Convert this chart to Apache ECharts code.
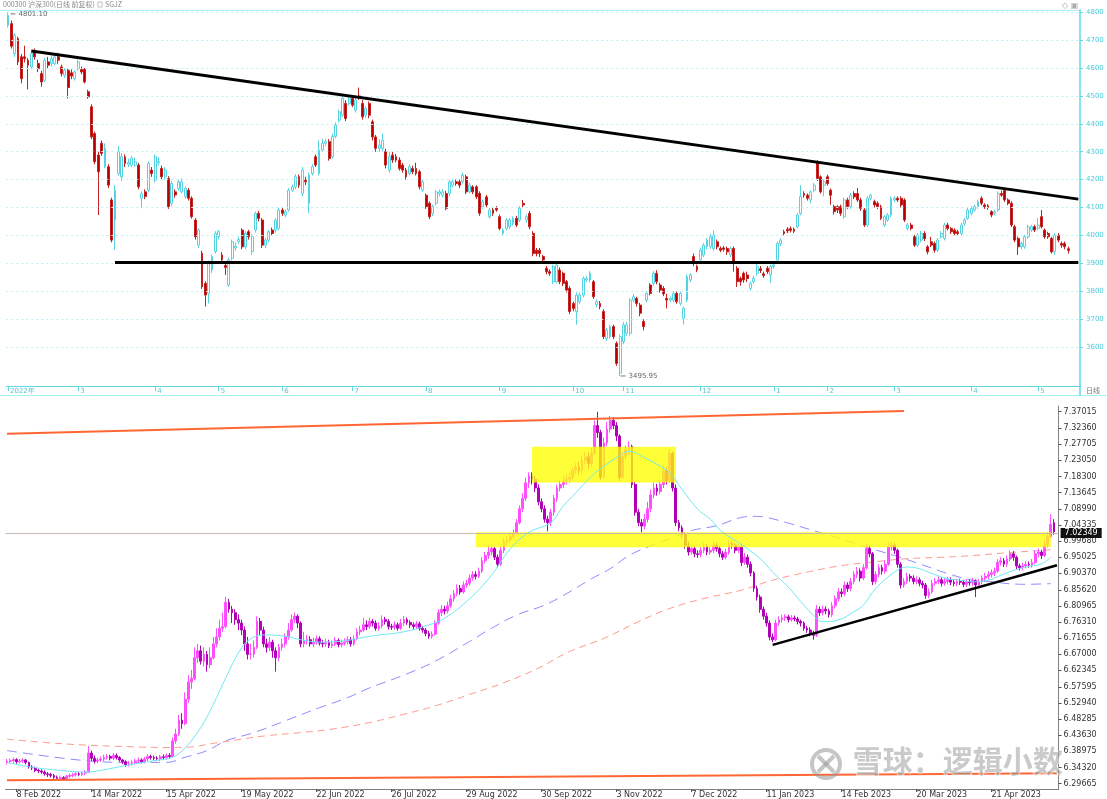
<!DOCTYPE html>
<html><head><meta charset="utf-8">
<script src="https://cdn.jsdelivr.net/npm/echarts@6/dist/echarts.min.js"></script>
<style>html,body{margin:0;padding:0;background:#fff}#c{width:1107px;height:799px}</style>
</head><body><div id="c"></div><script>
// ---------- TOP PANEL: CSI 300 daily [open, close, low, high] ----------
const csiOHLC = [
[4753,4789,4745,4801],[4759,4678,4670,4770],[4652,4718,4640,4725],[4706,4622,4610,4712],[4640,4562,4545,4650],[4640,4634,4620,4680],
[4628,4610,4523,4635],[4604,4652,4595,4665],[4658,4640,4630,4670],[4616,4598,4585,4630],[4580,4550,4533,4590],[4556,4628,4550,4635],
[4622,4610,4600,4640],[4616,4634,4605,4645],[4616,4640,4610,4650],[4640,4628,4615,4655],[4604,4580,4570,4612],[4574,4592,4565,4600],
[4592,4530,4491,4600],[4583,4571,4560,4595],[4562,4586,4555,4592],[4598,4622,4590,4630],[4595,4586,4578,4605],[4595,4550,4545,4600],
[4515,4497,4490,4522],[4461,4353,4345,4470],[4365,4264,4255,4372],[4288,4228,4073,4300],[4330,4294,4285,4340],[4246,4312,4240,4330],
[4246,4180,4170,4255],[4127,3983,3975,4135],[4055,4162,3948,4180],[4222,4300,4215,4320],[4210,4282,4195,4295],[4282,4258,4245,4290],
[4255,4262,4245,4275],[4252,4276,4245,4285],[4252,4264,4245,4280],[4252,4174,4165,4260],[4133,4150,4097,4158],[4156,4139,4130,4165],
[4162,4258,4155,4265],[4234,4222,4210,4245],[4198,4282,4190,4290],[4260,4264,4250,4280],[4240,4210,4200,4250],[4210,4234,4200,4245],
[4204,4103,4095,4212],[4115,4186,4105,4195],[4156,4145,4135,4165],[4168,4192,4160,4200],[4156,4192,4150,4205],[4139,4168,4130,4175],
[4162,4133,4125,4170],[4133,4067,4060,4140],[4055,3995,3985,4062],[3965,4019,3955,4025],[3936,3816,3808,3945],[3828,3786,3745,3835],
[3792,3900,3756,3910],[3876,3924,3865,3932],[3942,4007,3935,4015],[3995,4013,3985,4020],[3930,3912,3905,3940],[3892,3885,3858,3900],
[3822,3912,3815,3920],[3918,3977,3910,3985],[3955,3962,3945,3975],[3978,3985,3970,3995],[4019,3959,3950,4025],[3959,4007,3950,4015],
[4013,3995,3985,4020],[3942,3995,3930,4005],[4019,4079,4010,4085],[4079,4061,4050,4088],[4055,3965,3955,4062],[3965,3983,3955,3990],
[3983,4013,3975,4020],[4019,4007,4000,4028],[4019,4055,4010,4062],[4025,4091,4018,4100],[4091,4079,4070,4098],[4073,4085,4065,4092],
[4091,4162,4085,4170],[4162,4174,4155,4182],[4174,4210,4165,4220],[4210,4180,4170,4218],[4150,4234,4140,4245],[4198,4192,4180,4210],
[4115,4216,4080,4225],[4222,4246,4215,4255],[4282,4252,4245,4290],[4222,4306,4215,4340],[4306,4330,4300,4345],[4330,4336,4320,4345],
[4336,4276,4268,4345],[4282,4355,4275,4365],[4355,4395,4348,4405],[4413,4443,4405,4450],[4431,4491,4425,4500],[4473,4419,4410,4485],
[4473,4491,4465,4500],[4491,4467,4460,4500],[4449,4485,4440,4495],[4500,4494,4485,4530],[4473,4425,4415,4485],[4431,4455,4420,4462],
[4473,4431,4420,4480],[4407,4353,4340,4415],[4353,4312,4300,4360],[4312,4324,4300,4345],[4312,4341,4300,4365],[4300,4252,4240,4310],
[4234,4282,4225,4300],[4288,4270,4260,4300],[4282,4270,4262,4292],[4270,4240,4232,4280],[4252,4234,4225,4260],[4234,4210,4200,4242],
[4222,4246,4215,4255],[4240,4228,4220,4250],[4240,4222,4215,4260],[4228,4174,4165,4235],[4162,4192,4155,4200],[4144,4103,4095,4150],
[4115,4067,4058,4122],[4079,4103,4070,4110],[4115,4156,4108,4162],[4150,4156,4140,4165],[4144,4156,4135,4165],[4150,4097,4090,4160],
[4150,4192,4140,4200],[4180,4192,4172,4200],[4192,4186,4178,4200],[4192,4180,4170,4200],[4192,4216,4185,4225],[4210,4156,4148,4218],
[4156,4180,4150,4188],[4174,4156,4148,4180],[4174,4138,4130,4180],[4150,4079,4070,4158],[4103,4120,4095,4128],[4138,4109,4100,4145],
[4067,4091,4060,4098],[4091,4079,4070,4098],[4097,4091,4085,4105],[4067,4025,4018,4075],[4007,4019,3998,4025],[4025,4055,4018,4062],
[4031,4055,4022,4062],[4043,4061,4035,4068],[4061,4037,4030,4070],[4055,4097,4048,4105],[4115,4109,4100,4127],[4055,4067,4045,4075],
[4079,4031,4022,4088],[4007,3935,3925,4015],[3947,3935,3925,3955],[3947,3935,3922,3955],[3924,3912,3900,3930],[3882,3870,3860,3890],
[3870,3864,3855,3878],[3834,3888,3825,3895],[3834,3894,3828,3900],[3876,3834,3825,3885],[3864,3828,3818,3870],[3834,3804,3795,3840],
[3810,3727,3718,3818],[3756,3738,3728,3762],[3727,3786,3680,3795],[3762,3786,3755,3795],[3786,3846,3778,3852],[3840,3846,3832,3855],
[3840,3864,3832,3872],[3834,3780,3772,3840],[3752,3762,3742,3770],[3756,3744,3735,3765],[3727,3637,3628,3735],[3631,3661,3622,3668],
[3637,3673,3630,3680],[3673,3637,3628,3680],[3613,3541,3532,3620],[3506,3637,3496,3645],[3619,3679,3610,3690],[3649,3679,3640,3690],
[3649,3768,3640,3775],[3768,3780,3760,3790],[3774,3756,3745,3780],[3750,3721,3710,3758],[3691,3673,3660,3700],[3768,3792,3760,3800],
[3822,3792,3785,3828],[3828,3864,3820,3872],[3864,3834,3825,3875],[3822,3804,3795,3830],[3810,3790,3782,3818],[3774,3768,3738,3790],
[3768,3774,3760,3780],[3768,3792,3760,3800],[3792,3762,3755,3800],[3756,3792,3748,3798],[3703,3738,3680,3745],[3768,3852,3760,3860],
[3840,3858,3832,3865],[3924,3900,3890,3935],[3888,3876,3868,3895],[3912,3947,3905,3955],[3930,3965,3922,3972],[3959,3983,3950,3990],
[3959,3995,3952,4005],[3953,4001,3945,4018],[3977,3959,3950,3985],[3953,3947,3940,3960],[3955,3950,3942,3962],[3953,3941,3930,3960],
[3930,3953,3922,3960],[3953,3900,3870,3960],[3882,3834,3815,3890],[3846,3834,3820,3852],[3864,3840,3830,3870],[3858,3845,3832,3870],
[3810,3828,3802,3835],[3834,3846,3828,3855],[3864,3888,3855,3900],[3880,3874,3865,3890],[3862,3856,3848,3870],[3882,3870,3862,3890],
[3858,3888,3830,3895],[3888,3894,3880,3900],[3912,3971,3905,3978],[3971,3983,3962,3990],[4013,4007,4000,4020],[4022,4016,4008,4030],
[4024,4018,4010,4032],[4022,4015,4008,4028],[4031,4073,4025,4080],[4079,4139,4072,4180],[4150,4144,4135,4158],[4144,4133,4125,4150],
[4127,4156,4115,4162],[4162,4180,4155,4188],[4264,4204,4195,4270],[4210,4156,4150,4215],[4180,4192,4140,4200],[4210,4186,4178,4218],
[4162,4144,4110,4168],[4103,4085,4075,4110],[4103,4091,4080,4108],[4103,4079,4070,4110],[4067,4127,4060,4135],[4127,4103,4095,4135],
[4103,4144,4095,4152],[4150,4138,4130,4158],[4150,4127,4120,4170],[4127,4097,4088,4135],[4091,4037,4030,4098],[4037,4133,4030,4140],
[4133,4144,4125,4150],[4121,4109,4100,4128],[4115,4103,4095,4122],[4103,4061,4055,4110],[4037,4067,4030,4073],[4055,4073,4048,4080],
[4073,4133,4065,4140],[4127,4133,4120,4140],[4133,4127,4120,4140],[4133,4109,4100,4140],[4127,4055,4048,4133],[4025,4037,4018,4045],
[4037,4025,4018,4045],[3995,3965,3958,4002],[3965,4001,3958,4008],[3983,4007,3975,4015],[4007,3989,3980,4015],[3959,3941,3932,3965],
[3977,3965,3958,3995],[3971,3947,3938,3978],[3947,3983,3940,3990],[3995,4007,3988,4015],[3989,4037,3982,4045],[4037,4025,4018,4045],
[4025,4013,4005,4030],[4019,4007,4000,4025],[4013,4007,4000,4020],[4007,4037,4000,4045],[4043,4055,4035,4062],[4061,4091,4055,4098],
[4079,4097,4072,4105],[4091,4103,4085,4110],[4103,4121,4095,4128],[4133,4115,4108,4140],[4109,4103,4095,4115],[4106,4100,4092,4112],
[4085,4073,4065,4090],[4079,4085,4072,4092],[4091,4150,4085,4158],[4150,4144,4138,4160],[4162,4127,4120,4170],[4127,4115,4108,4133],
[4115,4037,4030,4122],[4031,3983,3975,4038],[3989,3959,3930,3995],[3959,3971,3950,3978],[3959,3995,3952,4002],[3995,4031,3988,4038],
[4019,4031,4012,4038],[4031,4019,4012,4038],[4025,4037,4018,4062],[4067,4031,4025,4091],[4019,3995,3988,4025],[4007,3995,3988,4013],
[3989,3941,3935,3995],[3941,4001,3930,4008],[4001,3983,3975,4008],[3971,3965,3955,3978],[3971,3959,3950,3978],[3952,3946,3935,3960]
];
const csiBlankSlots = 3;
const csiTickIdx = [0,21,44,63,82,103,125,147,169,184,207,229,245,265,288,308];
const csiTickLabels = ['2022年','3','4','5','6','7','8','9','10','11','12','1','2','3','4','5'];
const csiYTicks = [3600,3700,3800,3900,4000,4100,4200,4300,4400,4500,4600,4700,4800];
const csiTrendUpper = [[7,4661],[320,4130]];
const csiSupport = [[32,3905],[320,3905]];
const csiHighPoint = [0,4801.10];
const csiLowPoint = [183,3495.95];

// ---------- BOTTOM PANEL: USD/CNH daily [open, close, low, high] ----------
const fxOHLC = [
[6.358,6.361,6.352,6.368],[6.361,6.363,6.355,6.369],[6.363,6.366,6.357,6.372],[6.366,6.360,6.354,6.370],[6.360,6.362,6.355,6.368],[6.362,6.365,6.356,6.370],
[6.365,6.358,6.352,6.368],[6.358,6.345,6.340,6.360],[6.345,6.342,6.336,6.350],[6.342,6.335,6.330,6.346],[6.335,6.333,6.327,6.340],[6.333,6.330,6.325,6.338],
[6.330,6.325,6.320,6.335],[6.325,6.323,6.316,6.330],[6.323,6.320,6.314,6.328],[6.320,6.315,6.310,6.325],[6.315,6.312,6.307,6.320],[6.312,6.314,6.308,6.320],
[6.314,6.310,6.306,6.318],[6.310,6.318,6.306,6.322],[6.318,6.320,6.313,6.326],[6.320,6.322,6.315,6.328],[6.322,6.325,6.317,6.330],[6.325,6.323,6.318,6.331],
[6.323,6.327,6.318,6.332],[6.327,6.330,6.321,6.336],[6.330,6.385,6.328,6.405],[6.385,6.370,6.362,6.392],[6.370,6.362,6.355,6.378],[6.362,6.365,6.356,6.372],
[6.365,6.368,6.359,6.375],[6.368,6.372,6.362,6.380],[6.372,6.375,6.366,6.382],[6.375,6.370,6.364,6.380],[6.370,6.378,6.365,6.385],[6.378,6.372,6.366,6.384],
[6.372,6.365,6.360,6.376],[6.365,6.360,6.353,6.368],[6.360,6.352,6.346,6.364],[6.352,6.355,6.346,6.362],[6.355,6.358,6.349,6.364],[6.358,6.362,6.352,6.368],
[6.362,6.365,6.356,6.372],[6.365,6.360,6.355,6.370],[6.360,6.368,6.355,6.374],[6.368,6.375,6.362,6.382],[6.375,6.372,6.366,6.380],[6.372,6.370,6.364,6.378],
[6.370,6.368,6.362,6.376],[6.368,6.374,6.362,6.380],[6.374,6.372,6.366,6.381],[6.372,6.378,6.366,6.384],[6.378,6.375,6.369,6.385],[6.375,6.420,6.372,6.430],
[6.420,6.440,6.412,6.455],[6.440,6.480,6.435,6.495],[6.480,6.470,6.455,6.500],[6.470,6.540,6.465,6.560],[6.540,6.590,6.530,6.610],[6.590,6.600,6.570,6.625],
[6.600,6.660,6.595,6.690],[6.660,6.680,6.645,6.700],[6.680,6.650,6.640,6.695],[6.650,6.670,6.635,6.690],[6.670,6.640,6.620,6.680],[6.640,6.660,6.630,6.690],
[6.660,6.700,6.655,6.720],[6.700,6.720,6.690,6.745],[6.720,6.745,6.710,6.770],[6.745,6.750,6.735,6.790],[6.750,6.820,6.745,6.836],[6.820,6.800,6.790,6.830],
[6.800,6.790,6.760,6.810],[6.790,6.770,6.755,6.800],[6.770,6.760,6.740,6.785],[6.760,6.740,6.725,6.770],[6.740,6.700,6.680,6.750],[6.700,6.670,6.655,6.720],
[6.670,6.670,6.655,6.700],[6.670,6.690,6.660,6.710],[6.690,6.765,6.685,6.780],[6.765,6.740,6.725,6.775],[6.740,6.700,6.690,6.750],[6.700,6.690,6.675,6.715],
[6.690,6.705,6.680,6.720],[6.705,6.680,6.660,6.712],[6.680,6.660,6.620,6.690],[6.660,6.690,6.650,6.700],[6.690,6.700,6.680,6.715],[6.700,6.720,6.690,6.730],
[6.720,6.740,6.712,6.760],[6.740,6.770,6.735,6.785],[6.770,6.780,6.760,6.790],[6.780,6.760,6.745,6.785],[6.760,6.700,6.690,6.765],[6.700,6.710,6.690,6.735],
[6.710,6.712,6.698,6.725],[6.712,6.700,6.692,6.722],[6.700,6.705,6.690,6.718],[6.705,6.715,6.698,6.724],[6.715,6.702,6.695,6.722],[6.702,6.700,6.690,6.712],
[6.700,6.705,6.692,6.715],[6.705,6.695,6.688,6.712],[6.695,6.700,6.688,6.710],[6.700,6.710,6.694,6.720],[6.710,6.698,6.690,6.716],[6.698,6.702,6.690,6.712],
[6.702,6.706,6.695,6.716],[6.706,6.712,6.698,6.722],[6.712,6.700,6.692,6.720],[6.700,6.715,6.695,6.725],[6.715,6.735,6.710,6.745],[6.735,6.740,6.725,6.752],
[6.740,6.755,6.735,6.775],[6.755,6.750,6.740,6.768],[6.750,6.765,6.744,6.775],[6.765,6.760,6.750,6.772],[6.760,6.745,6.738,6.768],[6.745,6.752,6.738,6.762],
[6.752,6.770,6.745,6.782],[6.770,6.765,6.756,6.778],[6.765,6.750,6.742,6.772],[6.750,6.748,6.740,6.758],[6.748,6.755,6.740,6.765],[6.755,6.745,6.738,6.762],
[6.745,6.760,6.740,6.772],[6.760,6.770,6.752,6.780],[6.770,6.762,6.755,6.776],[6.762,6.755,6.746,6.768],[6.755,6.750,6.742,6.762],[6.750,6.758,6.742,6.766],
[6.758,6.745,6.738,6.764],[6.745,6.740,6.732,6.752],[6.740,6.730,6.722,6.746],[6.730,6.722,6.715,6.738],[6.722,6.728,6.715,6.736],[6.728,6.760,6.724,6.768],
[6.760,6.790,6.755,6.800],[6.790,6.800,6.780,6.812],[6.800,6.795,6.785,6.810],[6.795,6.810,6.788,6.822],[6.810,6.830,6.805,6.842],[6.830,6.845,6.822,6.855],
[6.845,6.860,6.838,6.872],[6.860,6.850,6.842,6.870],[6.850,6.870,6.845,6.880],[6.870,6.875,6.862,6.885],[6.875,6.890,6.868,6.900],[6.890,6.900,6.882,6.910],
[6.900,6.895,6.886,6.910],[6.895,6.910,6.890,6.920],[6.910,6.940,6.905,6.950],[6.940,6.955,6.932,6.965],[6.955,6.965,6.945,6.985],[6.965,6.975,6.955,6.985],
[6.975,6.950,6.942,6.980],[6.950,6.930,6.920,6.958],[6.930,6.970,6.925,6.980],[6.970,6.995,6.962,7.005],[6.995,7.000,6.985,7.012],[7.000,7.010,6.992,7.020],
[7.010,7.020,7.002,7.030],[7.020,7.050,7.015,7.060],[7.050,7.090,7.045,7.100],[7.090,7.120,7.080,7.135],[7.120,7.165,7.112,7.180],[7.165,7.185,7.150,7.195],
[7.185,7.175,7.160,7.195],[7.175,7.150,7.138,7.185],[7.150,7.110,7.100,7.160],[7.110,7.090,7.080,7.120],[7.090,7.060,7.050,7.100],[7.060,7.050,7.025,7.070],
[7.050,7.080,7.040,7.090],[7.080,7.120,7.070,7.130],[7.120,7.150,7.110,7.160],[7.150,7.160,7.140,7.175],[7.160,7.170,7.150,7.185],[7.170,7.175,7.160,7.190],
[7.175,7.180,7.165,7.195],[7.180,7.200,7.172,7.210],[7.200,7.210,7.190,7.222],[7.210,7.200,7.188,7.225],[7.200,7.230,7.195,7.245],[7.230,7.240,7.218,7.255],
[7.240,7.220,7.205,7.252],[7.220,7.250,7.212,7.265],[7.250,7.330,7.245,7.345],[7.330,7.310,7.295,7.370],[7.310,7.180,7.172,7.318],[7.180,7.280,7.175,7.295],
[7.280,7.320,7.270,7.340],[7.320,7.345,7.310,7.358],[7.345,7.330,7.320,7.355],[7.330,7.300,7.285,7.340],[7.300,7.180,7.170,7.305],[7.180,7.240,7.175,7.252],
[7.240,7.260,7.230,7.272],[7.260,7.270,7.245,7.285],[7.270,7.160,7.150,7.275],[7.160,7.080,7.070,7.168],[7.080,7.050,7.040,7.090],[7.050,7.040,7.022,7.060],
[7.040,7.060,7.030,7.075],[7.060,7.090,7.050,7.110],[7.090,7.130,7.080,7.145],[7.130,7.150,7.120,7.165],[7.150,7.140,7.128,7.162],[7.140,7.160,7.132,7.175],
[7.160,7.200,7.150,7.215],[7.200,7.170,7.160,7.210],[7.170,7.250,7.165,7.262],[7.250,7.150,7.140,7.255],[7.150,7.050,7.040,7.160],[7.050,7.035,7.025,7.058],
[7.035,7.015,7.005,7.042],[7.015,6.985,6.975,7.022],[6.985,6.965,6.955,6.995],[6.965,6.975,6.958,6.985],[6.975,6.960,6.950,6.982],[6.960,6.958,6.948,6.970],
[6.958,6.970,6.950,6.980],[6.970,6.980,6.962,6.992],[6.980,6.965,6.956,6.988],[6.965,6.970,6.958,6.980],[6.970,6.985,6.962,6.995],[6.985,6.975,6.966,6.992],
[6.975,6.960,6.950,6.982],[6.960,6.950,6.942,6.968],[6.950,6.965,6.944,6.975],[6.965,6.990,6.958,7.000],[6.990,6.985,6.975,6.998],[6.985,6.970,6.962,6.992],
[6.970,6.980,6.962,6.988],[6.980,6.935,6.925,6.985],[6.935,6.950,6.928,6.962],[6.950,6.930,6.920,6.958],[6.930,6.905,6.895,6.938],[6.905,6.860,6.850,6.910],
[6.860,6.835,6.825,6.868],[6.835,6.800,6.790,6.842],[6.800,6.780,6.770,6.808],[6.780,6.760,6.750,6.790],[6.760,6.720,6.710,6.768],[6.720,6.712,6.705,6.730],
[6.712,6.760,6.708,6.770],[6.760,6.770,6.752,6.780],[6.770,6.775,6.762,6.784],[6.775,6.778,6.766,6.786],[6.778,6.770,6.762,6.784],[6.770,6.775,6.764,6.783],
[6.775,6.772,6.765,6.782],[6.772,6.765,6.756,6.778],[6.765,6.760,6.750,6.770],[6.760,6.745,6.738,6.765],[6.745,6.740,6.732,6.752],[6.740,6.730,6.722,6.748],
[6.730,6.725,6.712,6.738],[6.725,6.800,6.720,6.812],[6.800,6.790,6.780,6.808],[6.790,6.800,6.782,6.810],[6.800,6.795,6.786,6.808],[6.795,6.785,6.776,6.802],
[6.785,6.810,6.778,6.820],[6.810,6.830,6.802,6.840],[6.830,6.850,6.822,6.862],[6.850,6.845,6.835,6.860],[6.845,6.870,6.838,6.880],[6.870,6.860,6.850,6.878],
[6.860,6.880,6.852,6.890],[6.880,6.900,6.872,6.910],[6.900,6.910,6.890,6.922],[6.910,6.890,6.880,6.918],[6.890,6.920,6.884,6.930],[6.920,6.975,6.915,6.990],
[6.975,6.960,6.950,6.985],[6.960,6.880,6.870,6.965],[6.880,6.900,6.872,6.910],[6.900,6.920,6.892,6.930],[6.920,6.910,6.900,6.928],[6.910,6.930,6.902,6.942],
[6.930,6.980,6.925,6.992],[6.980,6.985,6.970,6.995],[6.985,6.970,6.960,6.992],[6.970,6.930,6.920,6.975],[6.930,6.870,6.860,6.936],[6.870,6.880,6.862,6.890],
[6.880,6.895,6.872,6.905],[6.895,6.890,6.880,6.902],[6.890,6.880,6.872,6.898],[6.880,6.885,6.872,6.895],[6.885,6.875,6.866,6.892],[6.875,6.870,6.860,6.882],
[6.870,6.840,6.830,6.876],[6.840,6.850,6.832,6.860],[6.850,6.875,6.845,6.885],[6.875,6.880,6.868,6.890],[6.880,6.885,6.872,6.895],[6.885,6.875,6.866,6.892],
[6.875,6.880,6.868,6.890],[6.880,6.885,6.872,6.894],[6.885,6.878,6.870,6.892],[6.878,6.874,6.866,6.886],[6.874,6.880,6.866,6.888],[6.880,6.878,6.870,6.888],
[6.878,6.872,6.864,6.885],[6.872,6.880,6.864,6.888],[6.880,6.876,6.868,6.886],[6.876,6.882,6.868,6.890],[6.882,6.870,6.835,6.886],[6.870,6.880,6.862,6.888],
[6.880,6.890,6.872,6.898],[6.890,6.895,6.882,6.905],[6.895,6.900,6.886,6.910],[6.900,6.905,6.892,6.915],[6.905,6.910,6.896,6.920],[6.910,6.935,6.905,6.945],
[6.935,6.940,6.926,6.950],[6.940,6.930,6.922,6.948],[6.930,6.945,6.922,6.955],[6.945,6.960,6.938,6.970],[6.960,6.950,6.940,6.968],[6.950,6.925,6.915,6.955],
[6.925,6.920,6.912,6.932],[6.920,6.925,6.912,6.934],[6.925,6.930,6.918,6.938],[6.930,6.928,6.920,6.938],[6.928,6.935,6.920,6.945],[6.935,6.960,6.930,6.970],
[6.960,6.965,6.950,6.975],[6.965,6.955,6.945,6.972],[6.955,6.985,6.950,7.000],[6.985,7.010,6.978,7.022],[7.010,7.045,7.005,7.074],[7.050,7.0235,7.015,7.060]
];
const fxBlankSlots = 1;
const fxTickIdx = [3,27,51,75,99,123,147,171,195,219,243,267,291,315];
const fxTickLabels = ['8 Feb 2022','14 Mar 2022','15 Apr 2022','19 May 2022','22 Jun 2022','26 Jul 2022','29 Aug 2022','30 Sep 2022','3 Nov 2022','7 Dec 2022','11 Jan 2023','14 Feb 2023','20 Mar 2023','21 Apr 2023'];
const fxYTicks = [7.37015,7.32360,7.27705,7.23050,7.18300,7.13645,7.08990,7.04335,6.99680,6.95025,6.90370,6.85620,6.80965,6.76310,6.71655,6.67000,6.62345,6.57595,6.52940,6.48285,6.43630,6.38975,6.34320,6.29665];
const fxMaFast = [[0,6.358],[8,6.344],[17,6.335],[25,6.330],[30,6.335],[38,6.349],[47,6.363],[53,6.373],[57,6.400],[62,6.459],[66,6.525],[70,6.602],[75,6.688],[79,6.720],[83,6.726],[89,6.722],[94,6.712],[100,6.705],[109,6.710],[116,6.722],[127,6.735],[135,6.755],[140,6.774],[148,6.830],[155,6.898],[161,6.974],[167,7.022],[174,7.050],[178,7.098],[182,7.136],[187,7.184],[191,7.213],[195,7.237],[199,7.256],[204,7.237],[208,7.218],[212,7.194],[216,7.146],[221,7.089],[225,7.060],[229,7.022],[234,6.993],[241,6.946],[245,6.907],[250,6.864],[254,6.822],[258,6.783],[261,6.764],[266,6.769],[271,6.793],[274,6.812],[278,6.860],[284,6.907],[288,6.922],[292,6.917],[296,6.903],[301,6.888],[305,6.884],[309,6.879],[314,6.884],[318,6.898],[322,6.912],[326,6.922],[331,6.931],[334,6.950]];
const fxMaMid = [[0,6.392],[25,6.363],[40,6.358],[51,6.358],[57,6.373],[64,6.392],[70,6.420],[79,6.444],[89,6.478],[100,6.516],[109,6.545],[116,6.573],[127,6.610],[137,6.650],[148,6.707],[155,6.745],[163,6.783],[172,6.812],[180,6.850],[187,6.888],[193,6.917],[199,6.955],[206,6.983],[212,7.003],[219,7.027],[227,7.041],[235,7.065],[239,7.068],[243,7.065],[251,7.046],[258,7.027],[267,7.003],[275,6.979],[284,6.955],[292,6.931],[301,6.903],[309,6.884],[316,6.879],[320,6.874],[326,6.872],[334,6.874]];
const fxMaSlow = [[0,6.425],[19,6.411],[40,6.403],[51,6.401],[58,6.402],[66,6.413],[75,6.425],[83,6.435],[94,6.444],[104,6.454],[116,6.473],[127,6.497],[137,6.521],[148,6.554],[159,6.588],[170,6.630],[180,6.678],[191,6.716],[202,6.764],[212,6.802],[223,6.831],[235,6.855],[245,6.884],[256,6.907],[267,6.926],[277,6.936],[288,6.946],[299,6.950],[309,6.955],[320,6.963],[331,6.970],[334,6.972]];
const fxChannelTop = [[0,7.3064],[287,7.3723]];
const fxChannelBottom = [[0,6.3061],[336,6.3270]];
const fxTrend = [[245,6.6973],[336,6.927]];
const fxZoneUpper = [[168,7.166],[214,7.269]];
const fxZoneLower = [[150,6.979],[334,7.022]];
const fxBid = 7.0235;
const fxBidLabel = '7.02349';

// ---------- build ----------
const csiCats = []; for (let i = 0; i < csiOHLC.length + csiBlankSlots; i++) csiCats.push(String(i));
const fxCats = []; for (let i = 0; i < fxOHLC.length + fxBlankSlots; i++) fxCats.push(String(i));
const F = 'DejaVu Sans, Liberation Sans, sans-serif';
const cyan = '#5fd8e4';

const chart = echarts.init(document.getElementById('c'), null, {renderer: 'canvas'});
const seg = (p, style) => [{coord: p[0], lineStyle: style}, {coord: p[1]}];

chart.setOption({
  animation: false,
  backgroundColor: '#ffffff',
  grid: [
    {left: 6.3, right: 27, top: 10, bottom: 413, containLabel: false},
    {left: 5.5, right: 48.4, top: 406, bottom: 7, containLabel: false}
  ],
  xAxis: [
    {type: 'category', gridIndex: 0, data: csiCats, boundaryGap: true,
     axisLine: {lineStyle: {color: cyan, width: 1}},
     axisTick: {show: true, length: 5, inside: false, alignWithLabel: true, interval: i => csiTickIdx.includes(i), lineStyle: {color: cyan}},
     axisLabel: {interval: i => csiTickIdx.includes(i), formatter: (v, i) => csiTickLabels[csiTickIdx.indexOf(i)] || '', align: 'left', margin: 2, fontSize: 7, color: '#5bc4d0', fontFamily: F, padding: [0,0,0,2]},
     splitLine: {show: false}},
    {type: 'category', gridIndex: 1, data: fxCats, boundaryGap: true,
     axisLine: {lineStyle: {color: '#808080', width: 1}},
     axisTick: {show: true, length: 3, alignWithLabel: true, interval: i => fxTickIdx.includes(i), lineStyle: {color: '#555'}},
     axisLabel: {interval: i => fxTickIdx.includes(i), formatter: (v, i) => fxTickLabels[fxTickIdx.indexOf(i)] || '', align: 'left', margin: 2, fontSize: 8, color: '#333', fontFamily: F},
     splitLine: {show: false}}
  ],
  yAxis: [
    {type: 'value', gridIndex: 0, position: 'right', min: 3460, max: 4808, scale: true,
     axisLine: {show: true, lineStyle: {color: cyan, width: 1.5}},
     axisTick: {show: true, length: 3, customValues: csiYTicks, lineStyle: {color: cyan}},
     axisLabel: {customValues: csiYTicks, formatter: v => String(Math.round(v)), fontSize: 7, color: '#4ccad8', fontFamily: F, margin: 6},
     splitLine: {show: false}},
    {type: 'value', gridIndex: 1, position: 'right', min: 6.2812, max: 7.3866, scale: true,
     axisLine: {show: true, lineStyle: {color: '#808080', width: 1}},
     axisTick: {show: true, length: 3, customValues: fxYTicks, lineStyle: {color: '#555'}},
     axisLabel: {customValues: fxYTicks, formatter: v => v.toFixed(5), fontSize: 8, color: '#333', fontFamily: F, margin: 5},
     splitLine: {show: false}}
  ],
  series: [
    {type: 'candlestick', name: 'CSI300', xAxisIndex: 0, yAxisIndex: 0, data: csiOHLC, barWidth: 2.4,
     itemStyle: {color: '#ffffff', color0: '#b40000', borderColor: '#55d3e2', borderColor0: '#c42020', borderWidth: 1},
     markLine: {silent: true, symbol: ['none','none'], label: {show: false}, animation: false,
       data: csiYTicks.map(v => ({yAxis: v, lineStyle: {color: '#bdeff4', type: [2,3], width: 1}}))
         .concat([seg(csiTrendUpper, {color: '#000', width: 3, type: 'solid'}), seg(csiSupport, {color: '#000', width: 3, type: 'solid'})])},
     markPoint: {silent: true, animation: false, data: [
       {coord: csiLowPoint, symbol: 'rect', symbolSize: [5,1], itemStyle: {color: '#777'}, symbolOffset: [3,0],
        label: {show: true, position: 'right', distance: 3, formatter: '3495.95', fontSize: 7, color: '#666', fontFamily: F}},
       {coord: csiHighPoint, symbol: 'rect', symbolSize: [5,1], itemStyle: {color: '#777'}, symbolOffset: [5,2],
        label: {show: true, position: 'right', distance: 3, formatter: '4801.10', fontSize: 7, color: '#666', fontFamily: F}}
     ]}},
    {type: 'candlestick', name: 'USDCNH', xAxisIndex: 1, yAxisIndex: 1, data: fxOHLC, barWidth: 2.2, z: 3,
     itemStyle: {color: '#ff4dff', color0: '#b000b8', borderColor: '#ff4dff', borderColor0: '#b000b8', borderWidth: 1},
     markArea: {silent: true, z: 4, itemStyle: {color: 'rgba(255,255,0,0.78)'},
       data: [[{coord: fxZoneUpper[0]}, {coord: fxZoneUpper[1]}], [{coord: fxZoneLower[0]}, {coord: fxZoneLower[1]}]]},
     markLine: {silent: true, symbol: ['none','none'], label: {show: false}, animation: false, z: 6,
       data: [
         {yAxis: fxBid, lineStyle: {color: '#c9b9b0', width: 1, type: 'solid'},
          label: {show: true, position: 'end', distance: 2, formatter: fxBidLabel, backgroundColor: '#111', color: '#fff', fontSize: 8, fontFamily: F, padding: [1,4]}},
         seg(fxChannelTop, {color: '#ff6633', width: 2, type: 'solid'}),
         seg(fxChannelBottom, {color: '#ff6633', width: 2, type: 'solid'}),
         seg(fxTrend, {color: '#000', width: 2.5, type: 'solid'})
       ]}},
    {type: 'line', name: 'MA fast', xAxisIndex: 1, yAxisIndex: 1, data: fxMaFast, smooth: 0.4, showSymbol: false, connectNulls: true, z: 4,
     lineStyle: {color: '#6fe8f2', width: 1}},
    {type: 'line', name: 'MA mid', xAxisIndex: 1, yAxisIndex: 1, data: fxMaMid, smooth: 0.4, showSymbol: false, z: 2,
     lineStyle: {color: '#8c8cff', width: 1, type: [10,6]}},
    {type: 'line', name: 'MA slow', xAxisIndex: 1, yAxisIndex: 1, data: fxMaSlow, smooth: 0.4, showSymbol: false, z: 2,
     lineStyle: {color: '#ff9a8c', width: 1, type: [7,5]}}
  ],
  graphic: [
    {type: 'line', shape: {x1: 0, y1: 10.5, x2: 1080, y2: 10.5}, style: {stroke: '#a8eef5', lineWidth: 1}, silent: true},
    {type: 'line', shape: {x1: 0, y1: 395.5, x2: 1107, y2: 395.5}, style: {stroke: '#a8eef5', lineWidth: 1}, silent: true},
    {type: 'line', shape: {x1: 1080, y1: 386, x2: 1080, y2: 396}, style: {stroke: cyan, lineWidth: 1.5}, silent: true},
    {type: 'text', left: 3, top: 1, style: {text: '000300 沪深300(日线 前复权) ◎ SGJZ', font: '7px "Noto Sans CJK SC", sans-serif', fill: '#8a8a8a'}, silent: true},
    {type: 'text', left: 1062, top: 2, style: {text: '◇ ▣', font: '8px "DejaVu Sans"', fill: '#aaa'}, silent: true},
    {type: 'text', left: 1086, top: 387, style: {text: '日线', font: '7px "Noto Sans CJK SC"', fill: '#777'}, silent: true},
    {type: 'circle', shape: {cx: 826, cy: 764, r: 14}, style: {fill: 'none', stroke: 'rgba(150,150,150,0.55)', lineWidth: 4}, silent: true, z: 100},
    {type: 'line', shape: {x1: 818, y1: 756, x2: 834, y2: 772}, style: {stroke: 'rgba(150,150,150,0.55)', lineWidth: 4}, silent: true, z: 100},
    {type: 'line', shape: {x1: 834, y1: 756, x2: 818, y2: 772}, style: {stroke: 'rgba(150,150,150,0.55)', lineWidth: 4}, silent: true, z: 100},
    {type: 'text', left: 852, top: 745, z: 100, silent: true,
     style: {text: '雪球：逻辑小数', font: 'bold 30px "Noto Sans CJK SC"', fill: 'rgba(150,150,150,0.5)', stroke: 'rgba(255,255,255,0.7)', lineWidth: 1.5}}
  ]
});
</script></body></html>
